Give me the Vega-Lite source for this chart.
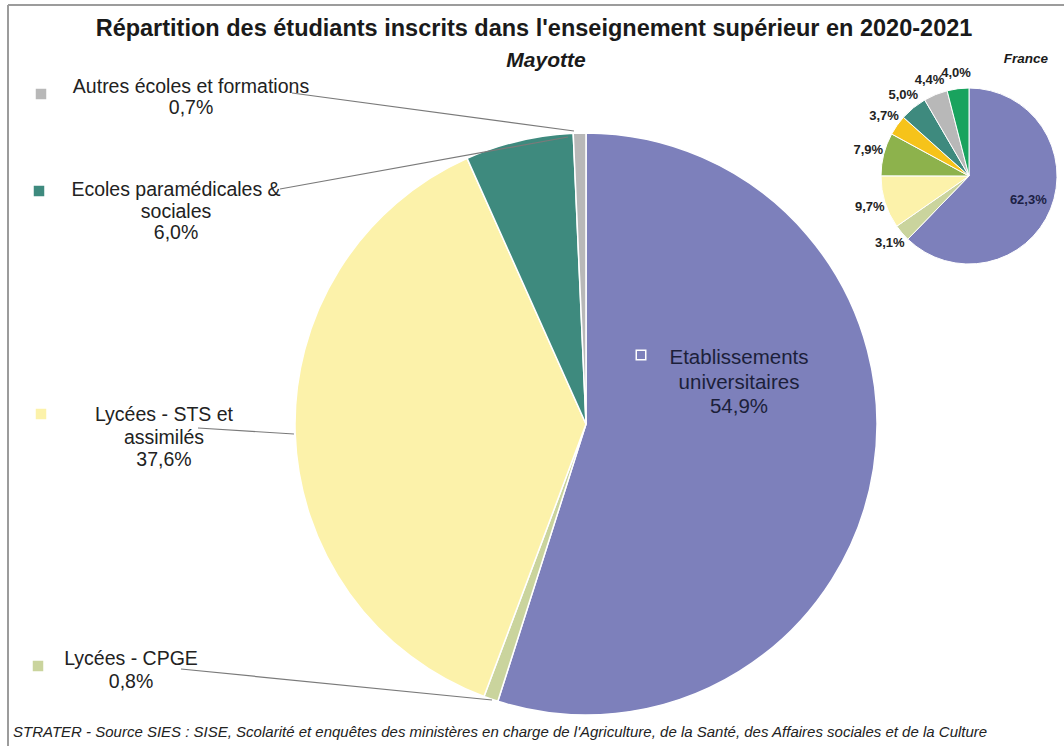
{
  "$schema": "https://vega.github.io/schema/vega-lite/v6.json",
  "width": 1064,
  "height": 746,
  "autosize": {"type": "fit", "contains": "padding"},
  "padding": {"left": 7, "top": 4, "right": 0, "bottom": 0},
  "background": "white",
  "config": {"view": {"stroke": null}, "font": "Liberation Sans"},
  "datasets": {
    "mayotte": [
      {"category": "Etablissements universitaires", "value": 54.9, "order": 1, "label": "Etablissements\nuniversitaires\n54,9%"},
      {"category": "Lycées - CPGE", "value": 0.8, "order": 2, "label": "Lycées - CPGE\n0,8%"},
      {"category": "Lycées - STS et assimilés", "value": 37.6, "order": 3, "label": "Lycées - STS et\nassimilés\n37,6%"},
      {"category": "Ecoles paramédicales & sociales", "value": 6.0, "order": 4, "label": "Ecoles paramédicales &\nsociales\n6,0%"},
      {"category": "Autres écoles et formations", "value": 0.7, "order": 5, "label": "Autres écoles et formations\n0,7%"}
    ],
    "france": [
      {"category": "Etablissements universitaires", "value": 62.3, "order": 1, "label": "62,3%"},
      {"category": "Lycées - CPGE", "value": 3.1, "order": 2, "label": "3,1%"},
      {"category": "Lycées - STS et assimilés", "value": 9.7, "order": 3, "label": "9,7%"},
      {"category": "Ecoles de commerce", "value": 7.9, "order": 4, "label": "7,9%"},
      {"category": "Ecoles d'ingénieurs", "value": 3.7, "order": 5, "label": "3,7%"},
      {"category": "Ecoles paramédicales & sociales", "value": 5.0, "order": 6, "label": "5,0%"},
      {"category": "Autres écoles et formations", "value": 4.4, "order": 7, "label": "4,4%"},
      {"category": "Ecoles d'art et de culture", "value": 4.0, "order": 8, "label": "4,0%"}
    ]
  },
  "layer": [
    {
      "data": {"values": [{}]},
      "mark": {"type": "rule", "stroke": "#9c9c9c", "strokeWidth": 2},
      "encoding": {"x": {"value": 0}, "x2": {"value": 1060}, "y": {"value": 0}, "y2": {"value": 0}}
    },
    {
      "data": {"values": [{}]},
      "mark": {"type": "rule", "stroke": "#9c9c9c", "strokeWidth": 2},
      "encoding": {"x": {"value": 0}, "x2": {"value": 0}, "y": {"value": 0}, "y2": {"value": 745}}
    },
    {
      "data": {"name": "mayotte"},
      "mark": {"type": "arc", "x": 578, "y": 419, "outerRadius": 291, "stroke": "white", "strokeWidth": 1.5},
      "encoding": {
        "theta": {"field": "value", "type": "quantitative", "stack": true},
        "color": {"field": "category", "type": "nominal", "legend": null,
          "scale": {"domain": ["Etablissements universitaires", "Lycées - CPGE", "Lycées - STS et assimilés", "Ecoles de commerce", "Ecoles d'ingénieurs", "Ecoles paramédicales & sociales", "Autres écoles et formations", "Ecoles d'art et de culture"],
                    "range": ["#7d80bb", "#cad49d", "#fcf2aa", "#8db24c", "#f6c31a", "#3e8a7e", "#b8b8b8", "#19a35e"]}},
        "order": {"field": "order", "type": "quantitative"}
      }
    },
    {
      "data": {"name": "france"},
      "mark": {"type": "arc", "x": 961, "y": 171, "outerRadius": 88, "stroke": "white", "strokeWidth": 1},
      "encoding": {
        "theta": {"field": "value", "type": "quantitative", "stack": true},
        "color": {"field": "category", "type": "nominal", "legend": null},
        "order": {"field": "order", "type": "quantitative"}
      }
    },
    {
      "data": {"name": "france"},
      "mark": {"type": "text", "x": 961, "y": 171, "fontSize": 13, "fontWeight": "bold", "color": "#222", "align": "center", "baseline": "middle"},
      "encoding": {
        "theta": {"field": "value", "type": "quantitative", "stack": true},
        "radius": {"value": 104},
        "text": {"condition": {"test": "datum.value < 50", "field": "label"}, "value": ""},
        "order": {"field": "order", "type": "quantitative"}
      }
    },
    {
      "data": {"name": "france"},
      "mark": {"type": "text", "x": 961, "y": 171, "fontSize": 13, "fontWeight": "bold", "color": "#1c1f45", "align": "center", "baseline": "middle"},
      "encoding": {
        "theta": {"field": "value", "type": "quantitative", "stack": true},
        "radius": {"value": 64},
        "text": {"condition": {"test": "datum.value > 50", "field": "label"}, "value": ""},
        "order": {"field": "order", "type": "quantitative"}
      }
    },
    {
      "data": {"name": "mayotte"},
      "transform": [{"filter": "datum.category == 'Autres écoles et formations'"}],
      "mark": {"type": "text", "x": 183, "y": 88, "align": "center", "baseline": "alphabetic", "fontSize": 19.5, "lineHeight": 21, "lineBreak": "\n", "color": "#222"},
      "encoding": {"text": {"field": "label"}}
    },
    {
      "data": {"name": "mayotte"},
      "transform": [{"filter": "datum.category == 'Ecoles paramédicales & sociales'"}],
      "mark": {"type": "text", "x": 168, "y": 191, "align": "center", "baseline": "alphabetic", "fontSize": 19.5, "lineHeight": 21.5, "lineBreak": "\n", "color": "#222"},
      "encoding": {"text": {"field": "label"}}
    },
    {
      "data": {"name": "mayotte"},
      "transform": [{"filter": "datum.category == 'Lycées - STS et assimilés'"}],
      "mark": {"type": "text", "x": 156, "y": 416, "align": "center", "baseline": "alphabetic", "fontSize": 19.5, "lineHeight": 22.5, "lineBreak": "\n", "color": "#222"},
      "encoding": {"text": {"field": "label"}}
    },
    {
      "data": {"name": "mayotte"},
      "transform": [{"filter": "datum.category == 'Lycées - CPGE'"}],
      "mark": {"type": "text", "x": 123, "y": 660, "align": "center", "baseline": "alphabetic", "fontSize": 19.5, "lineHeight": 22.5, "lineBreak": "\n", "color": "#222"},
      "encoding": {"text": {"field": "label"}}
    },
    {
      "data": {"name": "mayotte"},
      "transform": [{"filter": "datum.category == 'Etablissements universitaires'"}],
      "mark": {"type": "text", "x": 731, "y": 359, "align": "center", "baseline": "alphabetic", "fontSize": 20.5, "lineHeight": 24.5, "lineBreak": "\n", "color": "#1c1f3a"},
      "encoding": {"text": {"field": "label"}}
    },
    {
      "data": {"name": "mayotte"},
      "transform": [{"filter": "datum.category == 'Autres écoles et formations'"}],
      "mark": {"type": "square", "x": 33, "y": 89, "size": 110, "filled": true, "opacity": 1},
      "encoding": {"color": {"field": "category", "type": "nominal", "legend": null}}
    },
    {
      "data": {"name": "mayotte"},
      "transform": [{"filter": "datum.category == 'Ecoles paramédicales & sociales'"}],
      "mark": {"type": "square", "x": 31, "y": 186, "size": 110, "filled": true, "opacity": 1},
      "encoding": {"color": {"field": "category", "type": "nominal", "legend": null}}
    },
    {
      "data": {"name": "mayotte"},
      "transform": [{"filter": "datum.category == 'Lycées - STS et assimilés'"}],
      "mark": {"type": "square", "x": 33, "y": 409, "size": 110, "filled": true, "opacity": 1},
      "encoding": {"color": {"field": "category", "type": "nominal", "legend": null}}
    },
    {
      "data": {"name": "mayotte"},
      "transform": [{"filter": "datum.category == 'Lycées - CPGE'"}],
      "mark": {"type": "square", "x": 30, "y": 661, "size": 110, "filled": true, "opacity": 1},
      "encoding": {"color": {"field": "category", "type": "nominal", "legend": null}}
    },
    {
      "data": {"name": "mayotte"},
      "transform": [{"filter": "datum.category == 'Etablissements universitaires'"}],
      "mark": {"type": "square", "x": 633, "y": 350, "size": 90, "filled": true, "opacity": 1, "stroke": "white", "strokeWidth": 1.5},
      "encoding": {"color": {"field": "category", "type": "nominal", "legend": null}}
    },
    {
      "data": {"name": "mayotte"},
      "transform": [{"filter": "datum.category == 'Autres écoles et formations'"}],
      "mark": {"type": "rule", "stroke": "#7a7a7a", "strokeWidth": 1.2},
      "encoding": {"x": {"value": 284}, "y": {"value": 88}, "x2": {"value": 566}, "y2": {"value": 126}}
    },
    {
      "data": {"name": "mayotte"},
      "transform": [{"filter": "datum.category == 'Ecoles paramédicales & sociales'"}],
      "mark": {"type": "rule", "stroke": "#7a7a7a", "strokeWidth": 1.2},
      "encoding": {"x": {"value": 272}, "y": {"value": 184}, "x2": {"value": 560}, "y2": {"value": 132}}
    },
    {
      "data": {"name": "mayotte"},
      "transform": [{"filter": "datum.category == 'Lycées - STS et assimilés'"}],
      "mark": {"type": "rule", "stroke": "#7a7a7a", "strokeWidth": 1.2},
      "encoding": {"x": {"value": 190}, "y": {"value": 423}, "x2": {"value": 286}, "y2": {"value": 429}}
    },
    {
      "data": {"name": "mayotte"},
      "transform": [{"filter": "datum.category == 'Lycées - CPGE'"}],
      "mark": {"type": "rule", "stroke": "#7a7a7a", "strokeWidth": 1.2},
      "encoding": {"x": {"value": 173}, "y": {"value": 664}, "x2": {"value": 484}, "y2": {"value": 695}}
    },
    {
      "data": {"values": [{}]},
      "mark": {"type": "text", "text": "Répartition des étudiants inscrits dans l'enseignement supérieur en 2020-2021", "x": 526, "y": 31, "align": "center", "baseline": "alphabetic", "fontSize": 23.5, "fontWeight": "bold", "color": "#1a1a1a"},
      "encoding": {}
    },
    {
      "data": {"values": [{}]},
      "mark": {"type": "text", "text": "Mayotte", "x": 538, "y": 62, "align": "center", "baseline": "alphabetic", "fontSize": 21, "fontWeight": "bold", "fontStyle": "italic", "color": "#1a1a1a"},
      "encoding": {}
    },
    {
      "data": {"values": [{}]},
      "mark": {"type": "text", "text": "France", "x": 1018, "y": 58, "align": "center", "baseline": "alphabetic", "fontSize": 13.5, "fontWeight": "bold", "fontStyle": "italic", "color": "#1a1a1a"},
      "encoding": {}
    },
    {
      "data": {"values": [{}]},
      "mark": {"type": "text", "text": "STRATER - Source SIES : SISE, Scolarité et enquêtes des ministères en charge de l'Agriculture, de la Santé, des Affaires sociales et de la Culture", "x": 5, "y": 732, "align": "left", "baseline": "alphabetic", "fontSize": 15, "fontStyle": "italic", "color": "#222"},
      "encoding": {}
    }
  ],
  "resolve": {"scale": {"theta": "independent"}}
}
